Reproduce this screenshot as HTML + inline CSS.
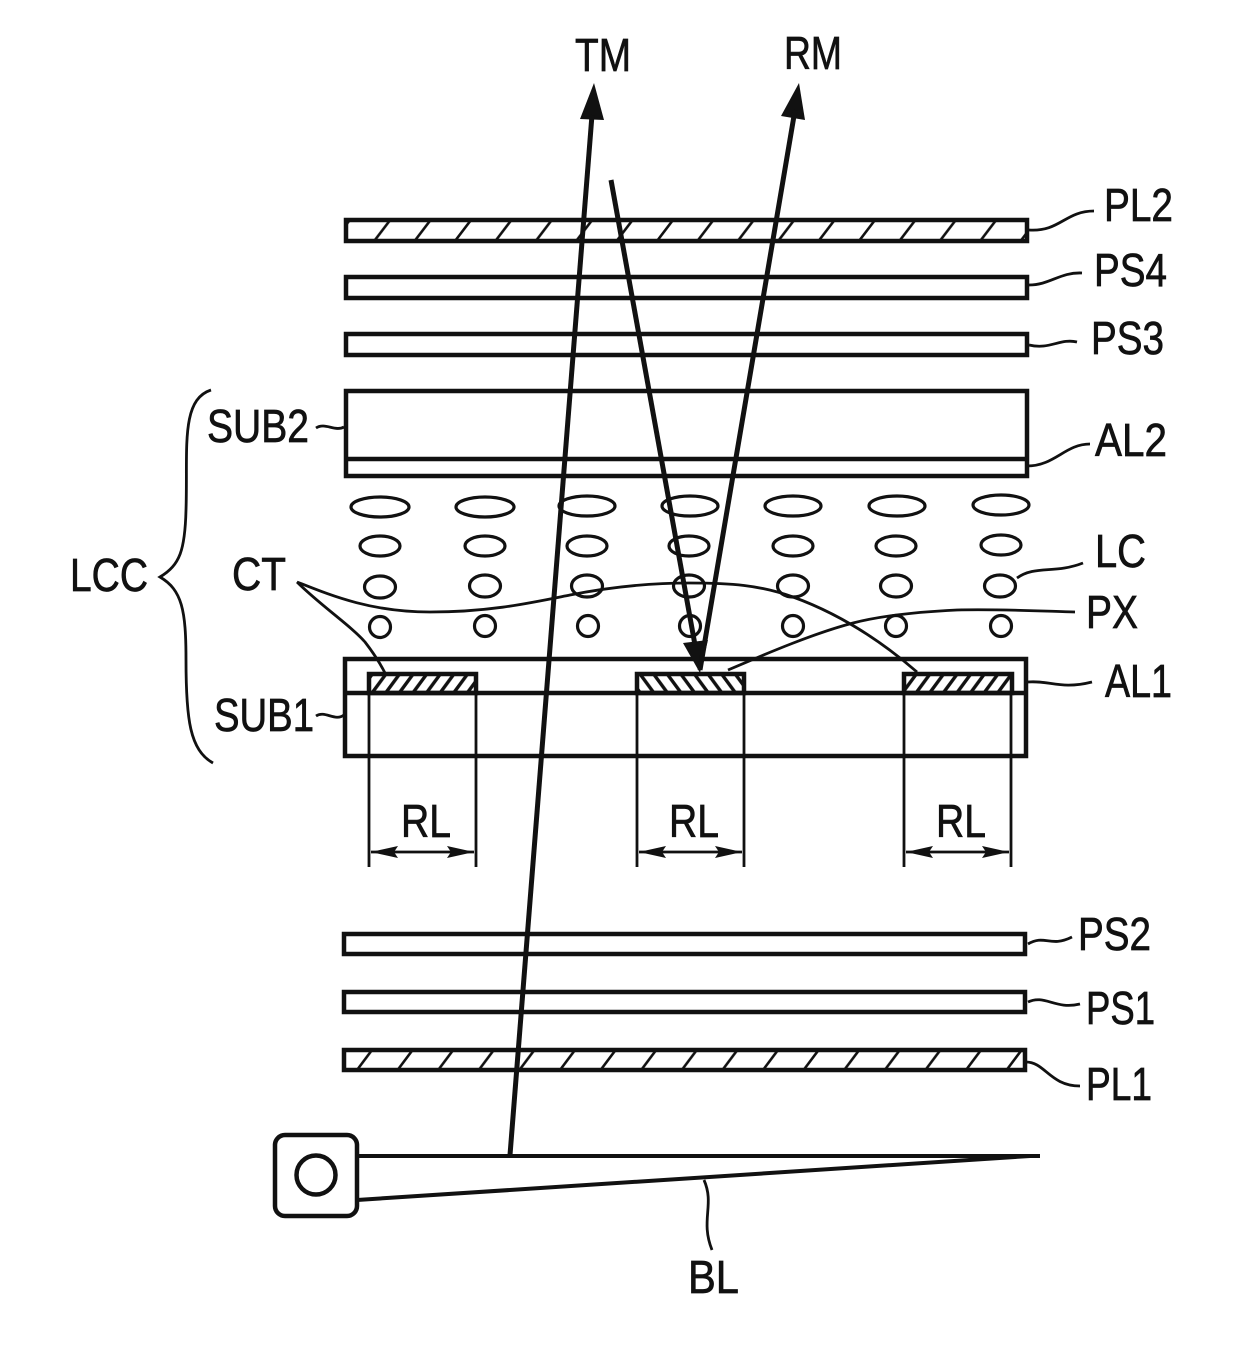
<!DOCTYPE html>
<html><head><meta charset="utf-8"><style>
html,body{margin:0;padding:0;background:#fff}
svg{display:block}
text{font-family:"Liberation Sans",sans-serif;font-size:46px;fill:#111;stroke:#111;stroke-width:.7px}
</style></head><body>
<svg width="1240" height="1345" viewBox="0 0 1240 1345" xmlns="http://www.w3.org/2000/svg">
<defs>
<pattern id="h1" width="40.4" height="21" patternUnits="userSpaceOnUse" x="333.8" y="220"><path d="M0 21L16 0" stroke="#111" stroke-width="2.6"/></pattern>
<pattern id="h4" width="40.6" height="20" patternUnits="userSpaceOnUse" x="357" y="1050"><path d="M0 20L15 0" stroke="#111" stroke-width="2.6"/></pattern>
<pattern id="h2" width="13.6" height="19" patternUnits="userSpaceOnUse" x="372" y="674"><path d="M0 19L14 0M-13.6 19L.4 0M13.6 19L27.6 0" stroke="#111" stroke-width="3.4"/></pattern>
<pattern id="h3" width="13.6" height="19" patternUnits="userSpaceOnUse" x="640" y="674"><path d="M14 19L0 0M.4 19L-13.6 0M27.6 19L13.6 0" stroke="#111" stroke-width="3.4"/></pattern>
</defs>
<g fill="none" stroke="#111" stroke-width="4.5">
<rect x="346" y="220" width="681" height="21" fill="url(#h1)"/>
<rect x="346" y="277" width="681" height="21"/>
<rect x="346" y="334" width="681" height="21"/>
<rect x="346" y="391" width="681" height="85"/>
<path d="M346 459H1027"/>
<rect x="345" y="659" width="681" height="97"/>
<path d="M345 693H1026"/>
<rect x="344" y="934" width="681" height="20"/>
<rect x="344" y="992" width="681" height="20"/>
<rect x="344" y="1050" width="681" height="20" fill="url(#h4)"/>
<rect x="369" y="674" width="107" height="19" fill="url(#h2)"/>
<rect x="637" y="674" width="107" height="19" fill="url(#h3)"/>
<rect x="904" y="674" width="108" height="19" fill="url(#h2)"/>
<rect x="275" y="1135" width="82" height="81" rx="10"/>
<circle cx="316" cy="1175" r="19.5"/>
</g>
<g fill="none" stroke="#111" stroke-width="3.2">
<ellipse cx="380" cy="507" rx="29" ry="10"/><ellipse cx="485" cy="507" rx="29" ry="10"/><ellipse cx="587" cy="506" rx="28" ry="10"/><ellipse cx="690" cy="506" rx="28" ry="10"/><ellipse cx="793" cy="506" rx="28" ry="10"/><ellipse cx="897" cy="506" rx="28" ry="10"/><ellipse cx="1001" cy="505" rx="28" ry="10"/>
<ellipse cx="380" cy="546" rx="20" ry="10"/><ellipse cx="485" cy="546" rx="20" ry="10"/><ellipse cx="587" cy="546" rx="20" ry="10"/><ellipse cx="689" cy="546" rx="20" ry="10"/><ellipse cx="793" cy="546" rx="20" ry="10"/><ellipse cx="896" cy="546" rx="20" ry="10"/><ellipse cx="1001" cy="545" rx="20" ry="10"/>
<ellipse cx="380" cy="587" rx="15.5" ry="11"/><ellipse cx="485" cy="586" rx="15.5" ry="11"/><ellipse cx="587" cy="586" rx="15.5" ry="11"/><ellipse cx="689" cy="586" rx="15.5" ry="11"/><ellipse cx="793" cy="586" rx="15.5" ry="11"/><ellipse cx="896" cy="586" rx="15.5" ry="11"/><ellipse cx="1000" cy="586" rx="15.5" ry="11"/>
<circle cx="380" cy="627" r="10.5"/><circle cx="485" cy="626" r="10.5"/><circle cx="588" cy="626" r="10.5"/><circle cx="690" cy="626" r="10.5"/><circle cx="793" cy="626" r="10.5"/><circle cx="896" cy="626" r="10.5"/><circle cx="1001" cy="626" r="10.5"/>
</g>
<g fill="none" stroke="#111" stroke-width="2.8">
<path d="M369 693V867M476 693V867M637 693V867M744 693V867M904 693V867M1011 693V867"/>
<path d="M371 852H474M639 852H742M906 852H1009"/>
<path d="M297 582C330 595 370 612 430 612C490 612 530 603 570 595C610 587 650 583 690 583C730 583 760 585 793 597C840 614 880 640 917 672"/>
<path d="M297 582C320 605 350 625 365 642C375 655 380 663 385 673"/>
<path d="M728 670C770 652 815 633 853 623C880 616 915 612 957 610C1000 609 1040 611 1075 612"/>
<path d="M1029 230C1060 232 1065 211 1094 211"/>
<path d="M1029 285C1050 285 1060 272 1082 273"/>
<path d="M1029 345C1050 350 1060 338 1077 342"/>
<path d="M1027 466C1055 466 1065 444 1090 444"/>
<path d="M1017 578C1035 565 1055 574 1083 563"/>
<path d="M1027 682C1050 680 1060 690 1092 682"/>
<path d="M1028 944C1045 934 1050 948 1072 937"/>
<path d="M1028 1002C1045 994 1055 1010 1080 1004"/>
<path d="M1026 1062C1045 1062 1050 1086 1080 1086"/>
<path d="M316 428C325 422 335 432 344 427"/>
<path d="M316 716C325 710 335 722 344 715"/>
<path d="M704 1180C715 1205 700 1220 712 1250"/>
<path d="M211 390C180 400 188 450 186 510C185 550 180 565 160 577C182 590 186 610 186 660C186 720 190 750 213 763"/>
</g>
<g fill="#111" stroke="none">
<path d="M371 852L398 846L394 852L398 858Z"/><path d="M474 852L447 846L451 852L447 858Z"/>
<path d="M639 852L666 846L662 852L666 858Z"/><path d="M742 852L715 846L719 852L715 858Z"/>
<path d="M906 852L933 846L929 852L933 858Z"/><path d="M1009 852L982 846L986 852L982 858Z"/>
<path d="M594 83L604 120L580 119Z"/>
<path d="M799 83L805 120L781 116Z"/>
<path d="M700 673L683 643L708 640Z"/>
</g>
<g fill="none" stroke="#111">
<path d="M510 1155L592 115" stroke-width="5"/>
<path d="M611 180L695 645" stroke-width="5"/>
<path d="M700 670L795 110" stroke-width="5"/>
<path d="M357 1156H1040" stroke-width="4"/>
<path d="M357 1200L1030 1156" stroke-width="4"/>
</g>
<text x="575" y="71" textLength="56" lengthAdjust="spacingAndGlyphs">TM</text>
<text x="784" y="69" textLength="58" lengthAdjust="spacingAndGlyphs">RM</text>
<text x="1104" y="221" textLength="69" lengthAdjust="spacingAndGlyphs">PL2</text>
<text x="1094" y="286" textLength="73" lengthAdjust="spacingAndGlyphs">PS4</text>
<text x="1091" y="354" textLength="73" lengthAdjust="spacingAndGlyphs">PS3</text>
<text x="207" y="442" textLength="102" lengthAdjust="spacingAndGlyphs">SUB2</text>
<text x="1095" y="456" textLength="72" lengthAdjust="spacingAndGlyphs">AL2</text>
<text x="1095" y="567" textLength="51" lengthAdjust="spacingAndGlyphs">LC</text>
<text x="70" y="591" textLength="78" lengthAdjust="spacingAndGlyphs">LCC</text>
<text x="232" y="590" textLength="54" lengthAdjust="spacingAndGlyphs">CT</text>
<text x="1086" y="628" textLength="52" lengthAdjust="spacingAndGlyphs">PX</text>
<text x="1105" y="697" textLength="67" lengthAdjust="spacingAndGlyphs">AL1</text>
<text x="214" y="731" textLength="100" lengthAdjust="spacingAndGlyphs">SUB1</text>
<text x="401" y="837" textLength="50" lengthAdjust="spacingAndGlyphs">RL</text>
<text x="669" y="837" textLength="50" lengthAdjust="spacingAndGlyphs">RL</text>
<text x="936" y="837" textLength="50" lengthAdjust="spacingAndGlyphs">RL</text>
<text x="1078" y="950" textLength="73" lengthAdjust="spacingAndGlyphs">PS2</text>
<text x="1086" y="1024" textLength="69" lengthAdjust="spacingAndGlyphs">PS1</text>
<text x="1086" y="1100" textLength="66" lengthAdjust="spacingAndGlyphs">PL1</text>
<text x="688" y="1293" textLength="51" lengthAdjust="spacingAndGlyphs">BL</text>
</svg>
</body></html>
